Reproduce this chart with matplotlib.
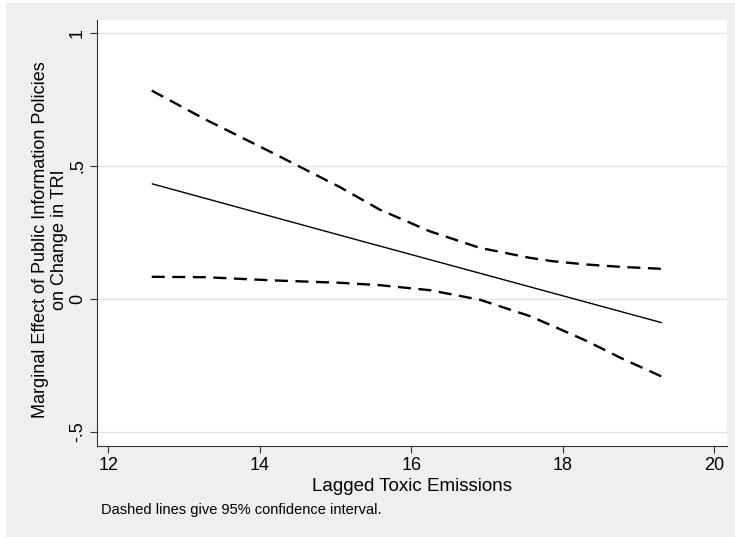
import matplotlib
matplotlib.use("Agg")
import matplotlib.pyplot as plt
from matplotlib.patches import Rectangle

plt.rcParams["font.family"] = ["Liberation Sans", "DejaVu Sans"]

# values
x_fit = [12.573, 15.055, 19.309]
y_fit = [0.4334, 0.2400, -0.0893]

x_upper = [12.573, 13.292, 14.173, 15.055, 15.584, 16.245, 16.906,
           17.567, 17.871, 18.317, 18.757, 19.309]
y_upper = [0.7835, 0.6735, 0.5486, 0.4210, 0.3358, 0.2544, 0.1921,
           0.1546, 0.1418, 0.1295, 0.1208, 0.1133]

x_lower = [12.573, 13.292, 14.173, 15.055, 15.584, 16.245, 16.906,
           17.567, 17.871, 18.317, 18.757, 19.309]
y_lower = [0.0833, 0.0817, 0.0698, 0.0608, 0.0518, 0.0330, -0.0030,
           -0.0645, -0.1020, -0.1580, -0.2206, -0.2920]

x_ticks = [12, 14, 16, 18, 20]
y_ticks = [-0.5, 0, 0.5, 1]
y_ticklabels = ["-.5", "0", ".5", "1"]

BG = "#efefef"
GRID = "#e4e4e4"

fig = plt.figure(figsize=(7.35, 5.37), dpi=100, facecolor="white")
fig.patches.append(Rectangle((6 / 735, 0), 1, 1 - 3 / 537, transform=fig.transFigure,
                             facecolor=BG, edgecolor="none", zorder=-10))

ax = fig.add_axes([97 / 735, 1 - 446 / 537, 630 / 735, 426 / 537])
ax.set_facecolor("white")

ax.plot(x_fit, y_fit, color="black", lw=1.0, solid_capstyle="butt")
ax.plot(x_upper, y_upper, color="black", lw=1.7, dashes=(5.5, 3.2))
ax.plot(x_lower, y_lower, color="black", lw=1.7, dashes=(5.5, 3.2))

ax.set_xlim(11.85, 20.17)
ax.set_ylim(-0.553, 1.049)

ax.set_xticks(x_ticks)
ax.set_yticks(y_ticks)
ax.set_yticklabels(y_ticklabels, rotation=90, va="center")
ax.tick_params(axis="both", labelsize=13, length=5, width=0.8, color="#333333",
               direction="out", pad=3)

ax.grid(axis="y", color=GRID, lw=1.0)
ax.set_axisbelow(True)

for side in ["top", "right"]:
    ax.spines[side].set_visible(False)
for side in ["left", "bottom"]:
    ax.spines[side].set_color("#333333")
    ax.spines[side].set_linewidth(0.8)

ax.set_xlabel("Lagged Toxic Emissions", fontsize=13.5, labelpad=3)
ax.set_ylabel("Marginal Effect of Public Information Policies\non Change in TRI",
              fontsize=13, linespacing=1.15)
ax.yaxis.set_label_coords(-0.046, 0.4836)

fig.text(101 / 735, 1 - 510 / 537, "Dashed lines give 95% confidence interval.",
         fontsize=10.5, va="center", ha="left")

fig.savefig("out.png", dpi=100, facecolor=fig.get_facecolor())
